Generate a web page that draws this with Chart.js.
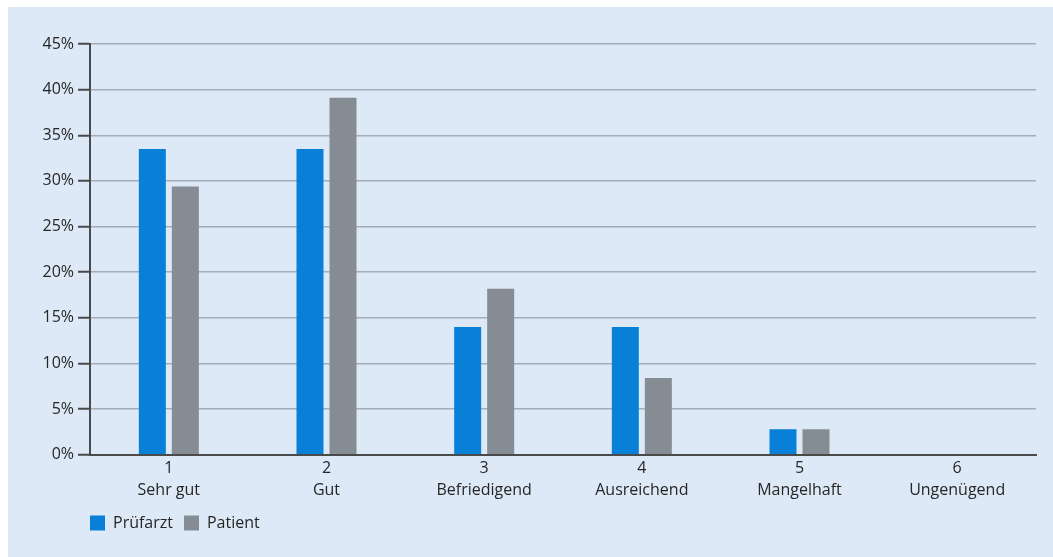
<!DOCTYPE html>
<html>
<head>
<meta charset="utf-8">
<script src="https://cdn.jsdelivr.net/npm/chart.js@4"></script>
<style>
body{margin:0;background:#fff;}
#panel{position:absolute;left:8px;top:7px;width:1045px;height:550px;background:#dde9f6;}
</style>
</head>
<body>
<div id="panel"><canvas id="chartGrades" width="1045" height="550"></canvas></div>
<script>
// school grades, share of ratings in %
const categories=[["1","Sehr gut"],["2","Gut"],["3","Befriedigend"],["4","Ausreichend"],["5","Mangelhaft"],["6","Ungenügend"]];
const pruefarzt=[33.5,33.5,14.0,14.0,2.8,0];
const patient=[29.4,39.1,18.2,8.4,2.8,0];
const seriesNames=["Prüfarzt","Patient"];
const yMax=45;
const yStep=5;

const font="'Open Sans', sans-serif";
const textColor="#262626";
const axisColor="#4a4a4a";

// move legend so it lines up with the y axis
const legendShift={
id:"legendShift",
beforeDraw(chart){
chart.legend.left=chart.chartArea.left-11;
}
};

new Chart(document.getElementById("chartGrades"),{
type:"bar",
data:{
labels:categories,
datasets:[
{label:seriesNames[0],data:pruefarzt,backgroundColor:"#0880d8"},
{label:seriesNames[1],data:patient,backgroundColor:"#868c93"}
]
},
options:{
responsive:false,
animation:false,
devicePixelRatio:1,
layout:{padding:{left:0,top:37,right:17,bottom:16}},
datasets:{bar:{categoryPercentage:0.4186,barPercentage:0.818}},
scales:{
x:{
grid:{display:false,drawTicks:false},
border:{display:true,color:axisColor,width:2},
ticks:{color:textColor,padding:3,font:{family:font,size:16,lineHeight:1.35},maxRotation:0}
},
y:{
min:0,max:yMax,
afterFit(scale){scale.width=82;},
grid:{color:"#a3adb8",lineWidth:1.5,tickColor:axisColor,tickLength:12,tickWidth:2},
border:{display:true,color:axisColor,width:2},
ticks:{stepSize:yStep,color:textColor,padding:4,font:{family:font,size:16},callback:v=>v+"%"}
}
},
plugins:{
legend:{
position:"bottom",
align:"start",
labels:{boxWidth:15,boxHeight:15,padding:11,color:textColor,font:{family:font,size:16}}
},
tooltip:{enabled:false}
}
},
plugins:[legendShift]
});
</script>
</body>
</html>
